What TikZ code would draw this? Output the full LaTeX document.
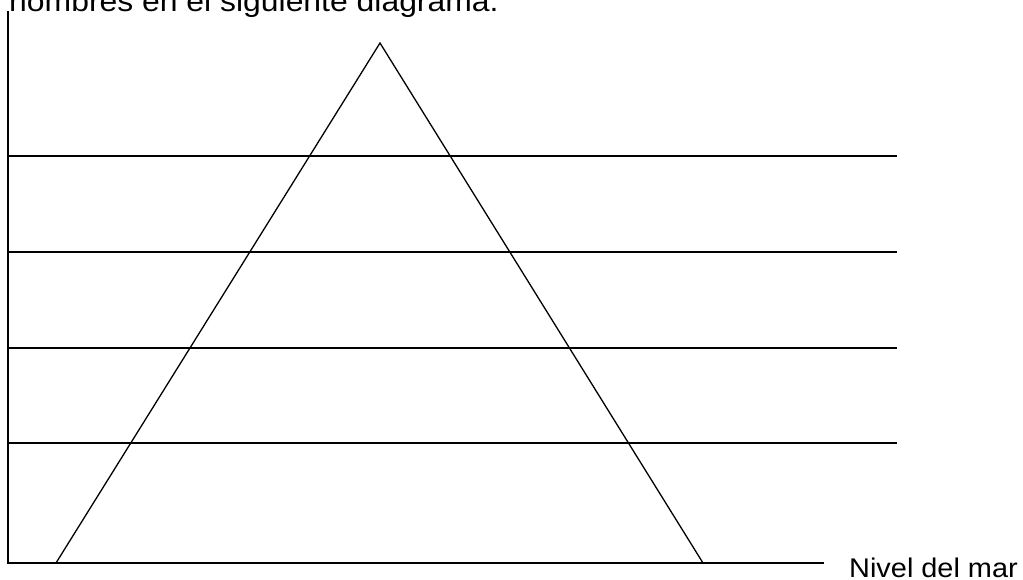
\documentclass[tikz,border=0pt]{standalone}
\usepackage{fontspec}
\setmainfont{Liberation Sans}
\begin{document}
\begin{tikzpicture}[x=1pt,y=-1pt,
  axis/.style={line width=1.6pt,line cap=rect},
  level/.style={line width=1.5pt},
  mountain/.style={line width=1.3pt,line join=miter},
  lbl/.style={inner sep=0pt,anchor=base west}]
\useasboundingbox (0,0) rectangle (1023,579);
% coordinates
\coordinate (top) at (8,12);
\coordinate (origin) at (8,563);
\coordinate (seaend) at (823,563);
\coordinate (apex) at (380,43);
\coordinate (bl) at (56,563);
\coordinate (br) at (703,563);
\foreach \y [count=\i] in {156,252,348,443} {
  \coordinate (l\i a) at (8,\y);
  \coordinate (l\i b) at (897,\y);
}
% axes
\draw[axis] (top) -- (origin) -- (seaend);
% level lines
\foreach \i in {1,...,4} \draw[level] (l\i a) -- (l\i b);
% mountain
\draw[mountain] (bl) -- (apex) -- (br);
% texts
\node[lbl,font=\fontsize{29}{34}\selectfont,xscale=1.1] (title) at (9,11) {nombres en el siguiente diagrama.};
\node[lbl,font=\fontsize{27}{32}\selectfont,xscale=1.07] (sea) at (849,577) {Nivel del mar};
\end{tikzpicture}
\end{document}
